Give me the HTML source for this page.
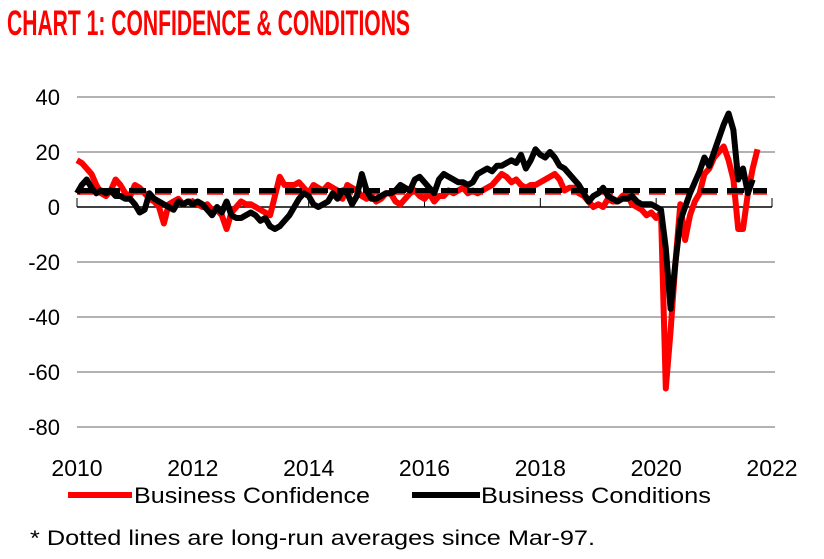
<!DOCTYPE html>
<html><head><meta charset="utf-8"><style>
body{margin:0;background:#fff;}
svg{display:block;font-family:"Liberation Sans",sans-serif;}
</style></head><body>
<svg id="chart" width="824" height="559" viewBox="0 0 824 559">
<text x="7" y="35" font-family="Liberation Sans Narrow, Liberation Sans, sans-serif" font-weight="bold" font-size="35" fill="#ff0000" textLength="403" lengthAdjust="spacingAndGlyphs">CHART 1: CONFIDENCE &amp; CONDITIONS</text>
<g id="grid"></g><g id="axes"></g><g id="series"></g>
<g>
<line x1="68" y1="495" x2="132" y2="495" stroke="#ff0000" stroke-width="6"/>
<text x="134" y="503" font-size="22" fill="#000" textLength="236" lengthAdjust="spacingAndGlyphs">Business Confidence</text>
<line x1="412" y1="495" x2="480" y2="495" stroke="#000" stroke-width="6"/>
<text x="481" y="503" font-size="22" fill="#000" textLength="230" lengthAdjust="spacingAndGlyphs">Business Conditions</text>
</g>
<text x="30" y="545" font-size="21" fill="#000" textLength="565" lengthAdjust="spacingAndGlyphs">* Dotted lines are long-run averages since Mar-97.</text>
</svg>
<script>
const yTicks=[40,20,0,-20,-40,-60,-80];
const xTicks=[2010,2012,2014,2016,2018,2020,2022];
const confidence=[17,16,14,12,8,5,4,6,10,8,5,4, 8,7,5,3,2,0,-6,1,2,3,1,2, 2,1,0,1,-1,-1,-3,-8,-2,0,2,1, 1,0,-1,-2,-3,4,11,8,8,8,9,7, 5,8,7,6,8,7,6,3,8,7,6,4, 3,4,2,3,5,5,2,1,3,5,6,4, 3,5,2,4,4,6,5,6,7,5,6,5, 6,7,8,10,12,11,9,10,8,7,8,8, 9,10,11,12,10,6,7,7,5,4,2,0, 1,0,3,2,2,4,5,1,0,-1,-3,-2, -4,-2,-66,-45,-20,1,-12,-3,2,5,12,14, 18,20,22,17,10,-8,-8,5,14,21];
const conditions=[5,8,10,7,5,6,5,6,4,4,3,3, 1,-2,-1,5,3,2,1,0,-1,2,1,2, 1,2,1,-1,-3,0,-2,2,-3,-4,-4,-3, -2,-3,-5,-4,-7,-8,-7,-5,-3,0,3,5, 4,1,0,1,2,5,3,6,5,1,4,12, 6,3,3,4,5,5,6,8,7,6,10,11, 9,7,5,10,12,11,10,9,9,8,9,12, 13,14,13,15,15,16,17,16,19,14,17,21, 19,18,20,18,15,14,12,10,8,5,2,4, 5,7,4,3,2,3,3,4,2,1,1,1, 0,-1,-15,-37,-20,-5,0,5,9,13,18,15, 20,25,30,34,28,10,14,5,10];
const confAvg=[5];
const condAvg=[6];
const NS="http://www.w3.org/2000/svg";
const X0=77,X1=772;
function xs(t){return X0+(t-2010)/12*(X1-X0);}
function ys(v){return 207-v*2.75;}
function mk(tag,attrs,parent){const e=document.createElementNS(NS,tag);for(const k in attrs)e.setAttribute(k,attrs[k]);parent.appendChild(e);return e;}
const grid=document.getElementById('grid'),axes=document.getElementById('axes'),ser=document.getElementById('series');
yTicks.forEach(v=>{
 if(v!==0){const l=mk('line',{x1:X0,x2:X1+3,y1:ys(v),y2:ys(v),stroke:'#999','stroke-width':1.5},grid);
 
 }
 const t=mk('text',{x:60,y:ys(v)+8,'font-size':22,'text-anchor':'end',fill:'#000'},axes);
 t.textContent=v;
 
 
});
const ax=mk('line',{x1:X0,x2:X1,y1:ys(0),y2:ys(0),stroke:'#000','stroke-width':1.5},axes);


xTicks.forEach(y=>{
 const tk=mk('line',{x1:xs(y),x2:xs(y),y1:ys(0),y2:ys(0)-9,stroke:'#000','stroke-width':1},axes);
 
 
 const t=mk('text',{x:xs(y),y:476,'font-size':23,'text-anchor':'middle',fill:'#000'},axes);
 t.textContent=y;
 
 
});
function path(arr){return arr.map((v,i)=>(i?'L':'M')+xs(2010+i/12).toFixed(1)+','+ys(v).toFixed(1)).join('');}
const cl=mk('path',{d:path(confidence),fill:'none',stroke:'#ff0000','stroke-width':6,'stroke-linejoin':'round'},ser);


const ca=mk('line',{x1:X0,x2:X1-5,y1:ys(confAvg[0]),y2:ys(confAvg[0]),stroke:'#ff0000','stroke-width':3,'stroke-dasharray':'16 10'},ser);


const dl=mk('path',{d:path(conditions),fill:'none',stroke:'#000','stroke-width':6,'stroke-linejoin':'round'},ser);


const da=mk('line',{x1:X0,x2:X1-5,y1:ys(condAvg[0]),y2:ys(condAvg[0]),stroke:'#000','stroke-width':5,'stroke-dasharray':'17 9'},ser);


</script>
</body></html>
